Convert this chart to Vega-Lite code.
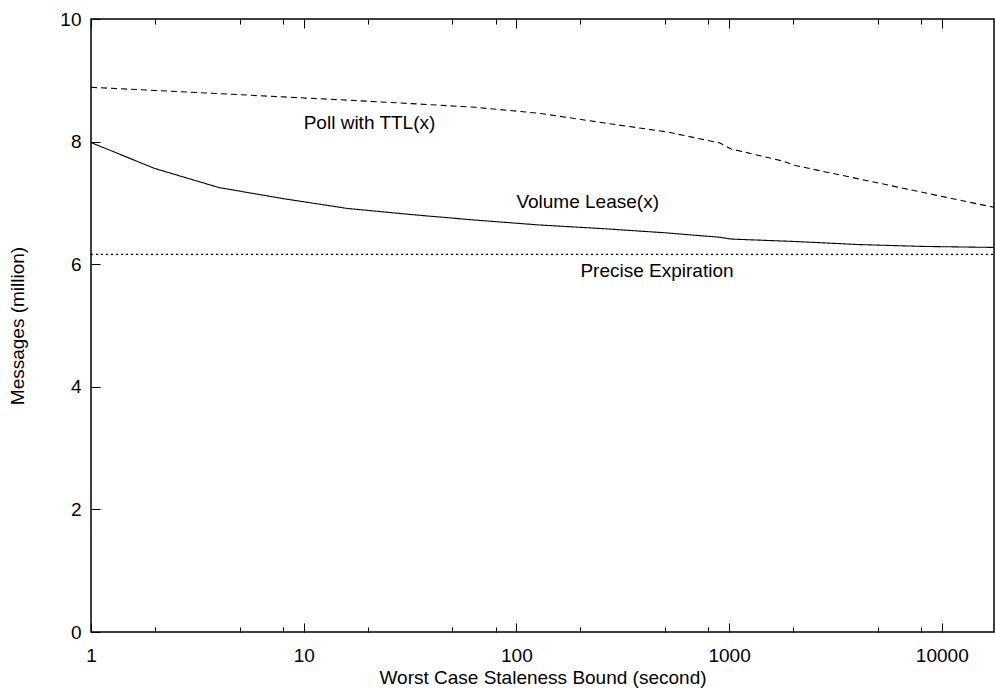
{
  "$schema": "https://vega.github.io/schema/vega-lite/v6.json",
  "width": 903,
  "height": 613,
  "autosize": {"type": "none"},
  "padding": {"left": 91, "top": 19, "right": 1, "bottom": 60},
  "background": "white",
  "config": {
    "view": {"stroke": "black", "strokeWidth": 1.5},
    "font": "Liberation Sans",
    "axis": {
      "domain": false,
      "grid": false,
      "labelFont": "Liberation Sans",
      "titleFont": "Liberation Sans",
      "labelFontSize": 19,
      "titleFontSize": 19,
      "titleFontWeight": "normal",
      "labelColor": "black",
      "titleColor": "black",
      "tickColor": "black",
      "tickWidth": 1
    }
  },
  "datasets": {
    "lines": [
      {"series": "Poll with TTL", "x": 1, "y": 8.886},
      {"series": "Poll with TTL", "x": 2, "y": 8.834},
      {"series": "Poll with TTL", "x": 4, "y": 8.782},
      {"series": "Poll with TTL", "x": 8, "y": 8.729},
      {"series": "Poll with TTL", "x": 16, "y": 8.677},
      {"series": "Poll with TTL", "x": 32, "y": 8.62},
      {"series": "Poll with TTL", "x": 64, "y": 8.56},
      {"series": "Poll with TTL", "x": 128, "y": 8.462},
      {"series": "Poll with TTL", "x": 256, "y": 8.307},
      {"series": "Poll with TTL", "x": 512, "y": 8.157},
      {"series": "Poll with TTL", "x": 900, "y": 7.98},
      {"series": "Poll with TTL", "x": 1024, "y": 7.88},
      {"series": "Poll with TTL", "x": 1800, "y": 7.68},
      {"series": "Poll with TTL", "x": 2048, "y": 7.61},
      {"series": "Poll with TTL", "x": 4096, "y": 7.39},
      {"series": "Poll with TTL", "x": 8192, "y": 7.17},
      {"series": "Poll with TTL", "x": 16384, "y": 6.95},
      {"series": "Poll with TTL", "x": 17600, "y": 6.93},
      {"series": "Volume Lease", "x": 1, "y": 7.984},
      {"series": "Volume Lease", "x": 2, "y": 7.56},
      {"series": "Volume Lease", "x": 4, "y": 7.25},
      {"series": "Volume Lease", "x": 8, "y": 7.07},
      {"series": "Volume Lease", "x": 16, "y": 6.91},
      {"series": "Volume Lease", "x": 32, "y": 6.81},
      {"series": "Volume Lease", "x": 64, "y": 6.72},
      {"series": "Volume Lease", "x": 128, "y": 6.64},
      {"series": "Volume Lease", "x": 256, "y": 6.58},
      {"series": "Volume Lease", "x": 512, "y": 6.51},
      {"series": "Volume Lease", "x": 900, "y": 6.44},
      {"series": "Volume Lease", "x": 1024, "y": 6.41},
      {"series": "Volume Lease", "x": 2048, "y": 6.37},
      {"series": "Volume Lease", "x": 4096, "y": 6.32},
      {"series": "Volume Lease", "x": 8192, "y": 6.29},
      {"series": "Volume Lease", "x": 16384, "y": 6.275},
      {"series": "Volume Lease", "x": 17600, "y": 6.275},
      {"series": "Precise Expiration", "x": 1, "y": 6.16},
      {"series": "Precise Expiration", "x": 17600, "y": 6.16}
    ],
    "labels": [
      {"label": "Poll with TTL(x)", "x": 10, "y": 8.31},
      {"label": "Volume Lease(x)", "x": 100, "y": 7.01},
      {"label": "Precise Expiration", "x": 200, "y": 5.89}
    ]
  },
  "layer": [
    {
      "data": {"name": "lines"},
      "mark": {"type": "line", "color": "black", "strokeWidth": 1.1, "clip": true},
      "encoding": {
        "x": {
          "field": "x", "type": "quantitative",
          "scale": {"type": "log", "domain": [1, 17600], "nice": false},
          "axis": {
            "orient": "bottom",
            "title": "Worst Case Staleness Bound (second)",
            "titlePadding": -1,
            "values": [1, 2, 5, 8, 10, 20, 50, 80, 100, 200, 500, 800, 1000, 2000, 5000, 8000, 10000],
            "labelExpr": "indexof([1,10,100,1000,10000], datum.value) >= 0 ? '' + datum.value : ''",
            "labelFlush": false,
            "labelOverlap": false,
            "tickSize": {"condition": {"test": "indexof([1,10,100,1000,10000], datum.value) >= 0", "value": -9}, "value": -5},
            "labelPadding": 23
          }
        },
        "y": {
          "field": "y", "type": "quantitative",
          "scale": {"domain": [0, 10], "nice": false},
          "axis": {
            "title": "Messages (million)",
            "values": [0, 2, 4, 6, 8, 10],
            "tickSize": -9,
            "labelPadding": 19,
            "titlePadding": 32
          }
        },
        "detail": {"field": "series"},
        "strokeDash": {
          "field": "series", "type": "nominal",
          "scale": {"domain": ["Poll with TTL", "Volume Lease", "Precise Expiration"], "range": [[6, 4], [1, 0], [2, 3]]},
          "legend": null
        }
      }
    },
    {
      "data": {"name": "labels"},
      "mark": {"type": "text", "align": "left", "baseline": "middle", "fontSize": 19, "font": "Liberation Sans", "color": "black"},
      "encoding": {
        "x": {
          "field": "x", "type": "quantitative",
          "axis": {
            "orient": "top",
            "title": null,
            "labels": false,
            "values": [1, 2, 5, 8, 10, 20, 50, 80, 100, 200, 500, 800, 1000, 2000, 5000, 8000, 10000],
            "tickSize": {"condition": {"test": "indexof([1,10,100,1000,10000], datum.value) >= 0", "value": -9}, "value": -5}
          }
        },
        "y": {"field": "y", "type": "quantitative", "axis": null},
        "text": {"field": "label"}
      }
    }
  ],
  "resolve": {"axis": {"x": "independent", "y": "independent"}}
}
